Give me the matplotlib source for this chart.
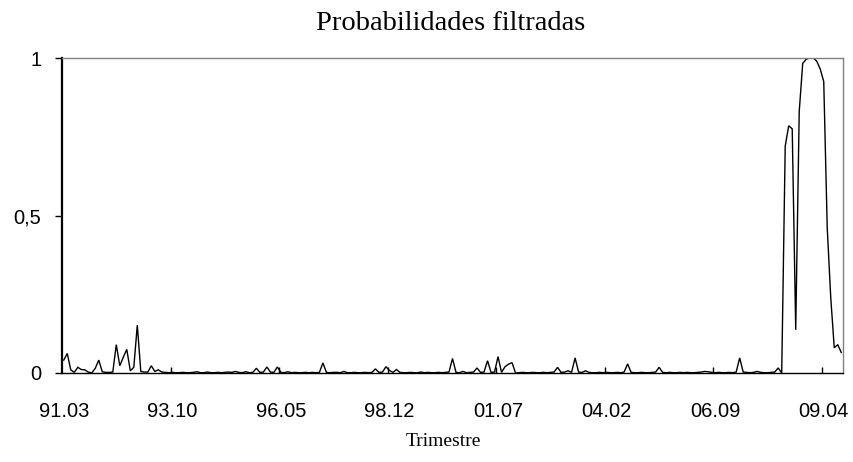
import matplotlib
matplotlib.use("Agg")
import matplotlib.pyplot as plt
import numpy as np

# monthly filtered probabilities, 1991.03 - 2009.09 (one row per year)
prob = [
    0.041, 0.062, 0.010, 0.002, 0.018, 0.011, 0.010, 0.003, 0.000, 0.015,
    0.041, 0.004, 0.002, 0.002, 0.003, 0.090, 0.023, 0.050, 0.075, 0.007, 0.018, 0.152,
    0.005, 0.003, 0.003, 0.023, 0.005, 0.010, 0.003, 0.002, 0.001, 0.002, 0.001, 0.001,
    0.002, 0.001, 0.001, 0.002, 0.004, 0.001, 0.001, 0.003, 0.001, 0.001, 0.002, 0.001,
    0.002, 0.003, 0.002, 0.005, 0.002, 0.001, 0.004, 0.001, 0.002, 0.015, 0.002, 0.003,
    0.019, 0.003, 0.002, 0.019, 0.002, 0.001, 0.004, 0.001, 0.002, 0.001, 0.001, 0.002,
    0.001, 0.002, 0.001, 0.002, 0.032, 0.002, 0.001, 0.002, 0.002, 0.001, 0.005, 0.001,
    0.001, 0.002, 0.001, 0.001, 0.002, 0.001, 0.002, 0.013, 0.002, 0.003, 0.020, 0.008,
    0.002, 0.011, 0.002, 0.001, 0.001, 0.002, 0.001, 0.001, 0.003, 0.001, 0.002, 0.001,
    0.001, 0.002, 0.001, 0.002, 0.003, 0.046, 0.002, 0.001, 0.005, 0.001, 0.002, 0.003,
    0.016, 0.002, 0.003, 0.039, 0.002, 0.003, 0.052, 0.002, 0.020, 0.028, 0.033, 0.000,
    0.001, 0.002, 0.001, 0.001, 0.002, 0.001, 0.001, 0.002, 0.001, 0.002, 0.003, 0.018,
    0.002, 0.003, 0.007, 0.002, 0.048, 0.003, 0.002, 0.007, 0.002, 0.001, 0.001, 0.002,
    0.001, 0.002, 0.001, 0.001, 0.002, 0.001, 0.003, 0.029, 0.002, 0.001, 0.001, 0.002,
    0.001, 0.001, 0.002, 0.003, 0.018, 0.002, 0.001, 0.002, 0.001, 0.001, 0.002, 0.001,
    0.002, 0.001, 0.001, 0.002, 0.003, 0.005, 0.004, 0.002, 0.001, 0.002, 0.001, 0.001,
    0.002, 0.001, 0.003, 0.048, 0.003, 0.002, 0.001, 0.002, 0.005, 0.002, 0.001, 0.001,
    0.002, 0.003, 0.016, 0.000, 0.720, 0.785, 0.775, 0.137, 0.830, 0.983, 0.996, 1.000,
    1.000, 0.990, 0.965, 0.925, 0.460, 0.240, 0.080, 0.090, 0.065,
]

tick_labels = ["91.03", "93.10", "96.05", "98.12", "01.07", "04.02", "06.09", "09.04"]
tick_step = 31
y_ticks = [0, 0.5, 1]
y_tick_labels = ["0", "0,5", "1"]

sans = "Liberation Sans"
serif = "Liberation Serif"

W, H = 854, 462
fig = plt.figure(figsize=(W / 100, H / 100), dpi=100)
ax = fig.add_axes([62 / W, 1 - 373 / H, (843 - 62) / W, (373 - 58) / H])

x = np.arange(len(prob))
ax.plot(x, prob, color="black", lw=1.0, solid_joinstyle="miter")

ax.set_xlim(-0.5, len(prob) - 0.5)
ax.set_ylim(0, 1)

# category labels under the points, tick marks on category boundaries
label_pos = np.arange(len(tick_labels)) * tick_step
ax.set_xticks(label_pos)
ax.set_xticklabels(tick_labels, fontfamily=sans, fontsize=14.5)
ax.tick_params(axis="x", which="major", length=0, pad=21)
ax.set_xticks(label_pos[1:] - 0.5, minor=True)
ax.tick_params(axis="x", which="minor", direction="in", length=4, width=1,
               color="black")

ax.set_yticks(y_ticks)
ax.set_yticklabels(y_tick_labels, fontfamily=sans, fontsize=14.5)
ax.tick_params(axis="y", direction="out", length=5, width=1, pad=10,
               color="black")

ax.spines["left"].set_color("black")
ax.spines["left"].set_linewidth(1.6)
ax.spines["bottom"].set_color("black")
ax.spines["bottom"].set_linewidth(1.0)
for side in ("top", "right"):
    ax.spines[side].set_color("#808080")
    ax.spines[side].set_linewidth(1.0)

fig.text(451 / W, 1 - 23 / H, "Probabilidades filtradas", ha="center",
         va="center", fontfamily=serif, fontsize=20.5)
fig.text(443 / W, 1 - 442 / H, "Trimestre", ha="center", va="center",
         fontfamily=serif, fontsize=14)

fig.savefig("out.png", dpi=100)
plt.close(fig)
